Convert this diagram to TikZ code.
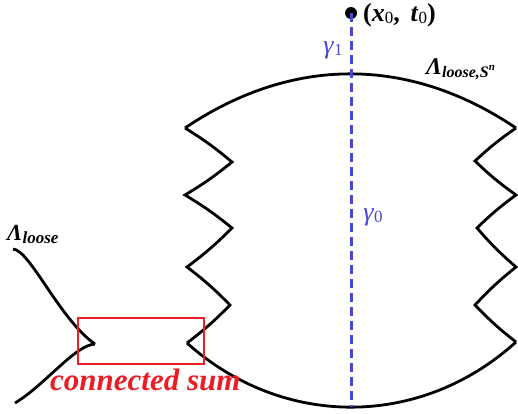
\documentclass[tikz,border=0pt]{standalone}
\usepackage{fontspec}
\setmainfont{Liberation Serif}
\usetikzlibrary{positioning}

\definecolor{rayblue}{RGB}{72,72,214}
\definecolor{sumred}{RGB}{236,28,36}

\tikzset{
  front/.style={line width=2.8pt, line join=miter},
  ray/.style={rayblue, line width=3pt, dash pattern=on 9pt off 5pt},
  tag/.style={inner sep=0pt},
}

\begin{document}
\begin{tikzpicture}[x=1pt, y=-1pt]
    \useasboundingbox (0,0) rectangle (518,413);

    % Big front
    % Vertices
    \coordinate (L1) at (185,128);
    \coordinate (L2) at (232,162);
    \coordinate (L3) at (185,195);
    \coordinate (L4) at (232,228);
    \coordinate (L5) at (187,267);
    \coordinate (L6) at (230,305);
    \coordinate (L7) at (187,343);
    \coordinate (R1) at (516,128);
    \coordinate (R2) at (475,161);
    \coordinate (R3) at (516,195);
    \coordinate (R4) at (477,228);
    \coordinate (R5) at (516,267);
    \coordinate (R6) at (475,305);
    \coordinate (R7) at (516,342);

    % Edges
    \draw[front] (L1) to[bend left=34] (R1);
    \draw[front] (L7) to[bend right=42] (R7);
    \draw[front] (L1) to[bend left=4] (L2) to[bend left=4] (L3)
                      to[bend left=4] (L4) to[bend left=4] (L5)
                      to[bend left=4] (L6) to[bend left=4] (L7);
    \draw[front] (R1) to[bend right=4] (R2) to[bend right=4] (R3)
                      to[bend right=4] (R4) to[bend right=4] (R5)
                      to[bend right=4] (R6) to[bend right=4] (R7);

    % Small front
    \coordinate (S1) at (13,249);
    \coordinate (S2) at (95,344);
    \coordinate (S3) at (15,403);
    \draw[front] (S1) .. controls (30,250) and (60,320) .. (S2);
    \draw[front] (S2) .. controls (75,345) and (45,385) .. (S3);

    % Point and rays
    \node (pt) [circle, fill=black, inner sep=0pt, minimum size=12pt] at (351,13) {};
    \coordinate (bot) at (351,407);
    \draw[ray] (pt.center) -- (bot);

    % Labels
    \node (ptlabel) [tag, anchor=west] at (363,15)
        {\fontsize{26}{26}\selectfont\bfseries (\textit{x}\raisebox{-2pt}{\mdseries\fontsize{17}{17}\selectfont 0},\, \textit{t}\raisebox{-2pt}{\mdseries\fontsize{17}{17}\selectfont 0})};
    \node (g1) [tag, rayblue] at (333,50)
        {\fontsize{26}{26}\selectfont\textit{γ}\raisebox{-2pt}{\fontsize{17}{17}\selectfont 1}};
    \node (g0) [tag, rayblue] at (373,217)
        {\fontsize{26}{26}\selectfont\textit{γ}\raisebox{-2pt}{\fontsize{17}{17}\selectfont 0}};
    \node (bigname) [tag, anchor=base west] at (426,74)
        {\bfseries\itshape\fontsize{24}{24}\selectfont Λ\raisebox{-3pt}{\fontsize{16}{16}\selectfont loose,S\raisebox{7pt}{\fontsize{11}{11}\selectfont n}}};
    \node (smallname) [tag, anchor=base west] at (7,240)
        {\bfseries\itshape\fontsize{23}{23}\selectfont Λ\raisebox{-3pt}{\fontsize{17}{17}\selectfont loose}};

    % Connected sum
    \node (sumbox) [draw=sumred, line width=2pt, minimum width=126pt, minimum height=46pt] at (141,341) {};
    \node (sumname) [tag, sumred, anchor=base west] at (50,390)
        {\bfseries\itshape\fontsize{31}{31}\selectfont connected sum};
\end{tikzpicture}
\end{document}
